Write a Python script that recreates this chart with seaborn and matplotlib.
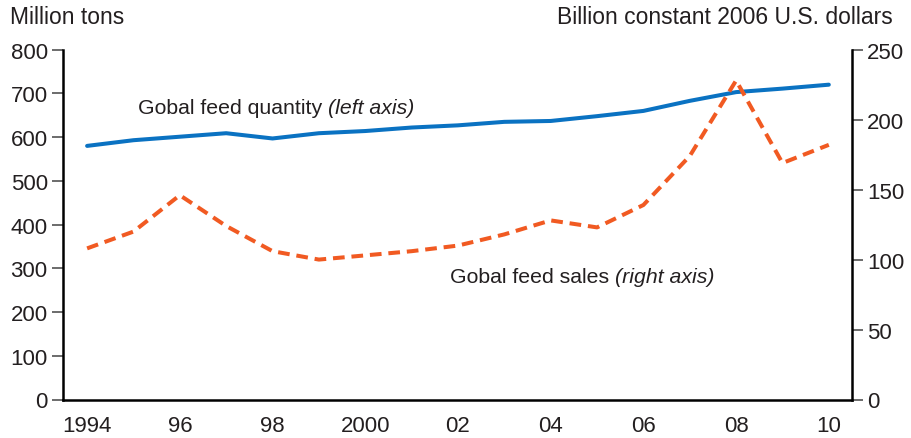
import matplotlib
matplotlib.use("Agg")
import matplotlib.pyplot as plt
import seaborn as sns

years = list(range(1994, 2011))
quantity = [580, 593, 601, 609, 597, 609, 614, 622, 627, 635, 637, 648, 660, 683, 703, 711, 720]
sales = [108, 120, 146, 124, 106, 100, 103, 106, 110, 118, 128, 123, 139, 174, 228, 169, 182]
xtick_labels = ["1994", "", "96", "", "98", "", "2000", "", "02", "", "04", "", "06", "", "08", "", "10"]
left_ticks = [0, 100, 200, 300, 400, 500, 600, 700, 800]
right_ticks = [0, 50, 100, 150, 200, 250]

BLUE = "#0a72c2"
ORANGE = "#f15a22"
TXT = "#231f20"

sns.set_style("white")
plt.rcParams['font.family'] = ['Liberation Sans', 'DejaVu Sans']

W, H = 912, 439
fig = plt.figure(figsize=(W / 100, H / 100), dpi=100)
left_px, right_px, top_px, bot_px = 63, 852, 50.7, 400.5
ax = fig.add_axes([left_px / W, 1 - bot_px / H, (right_px - left_px) / W, (bot_px - top_px) / H])
ax2 = ax.twinx()

sns.lineplot(x=years, y=quantity, ax=ax, color=BLUE, linewidth=2.9)
sns.lineplot(x=years, y=sales, ax=ax2, color=ORANGE, linewidth=2.9,
             linestyle=(0, (2.9, 1.7)))

ax.set_xlim(1993.48, 2010.5)
ax.set_ylim(0, 800)
ax2.set_ylim(0, 250)
ax.set_xticks(years)
ax.set_xticklabels(xtick_labels)
ax.set_yticks(left_ticks)
ax2.set_yticks(right_ticks)
for a in (ax, ax2):
    a.set_xlabel("")
    a.set_ylabel("")
    a.spines['top'].set_visible(False)
    for s in a.spines.values():
        s.set_linewidth(1.8)
        s.set_color("black")
    a.tick_params(axis='both', direction='out', length=8, width=1.1, color='#444444',
                  labelsize=16, labelcolor=TXT, pad=3)
ax.spines['right'].set_visible(False)
ax2.spines['left'].set_visible(False)
ax2.spines['bottom'].set_visible(False)
ax2.tick_params(axis='y', right=True, left=False)

fig.text(10 / W, 1 - 18 / H, "Million tons", fontsize=16.5, va='center', ha='left', color=TXT)
fig.text(893 / W, 1 - 18 / H, "Billion constant 2006 U.S. dollars", fontsize=16.5,
         va='center', ha='right', color=TXT)

t1 = ax.text(1995.1, 655, "Gobal feed quantity ", fontsize=15.3, va='baseline', ha='left', color=TXT)
ax.annotate("(left axis)", xy=(1, 0), xycoords=t1, va='bottom', ha='left', fontsize=15.3,
            style='italic', color=TXT)
t2 = ax.text(2001.83, 269, "Gobal feed sales ", fontsize=15.3, va='baseline', ha='left', color=TXT)
ax.annotate("(right axis)", xy=(1, 0), xycoords=t2, va='bottom', ha='left', fontsize=15.3,
            style='italic', color=TXT)

fig.savefig("out.png", dpi=100)
